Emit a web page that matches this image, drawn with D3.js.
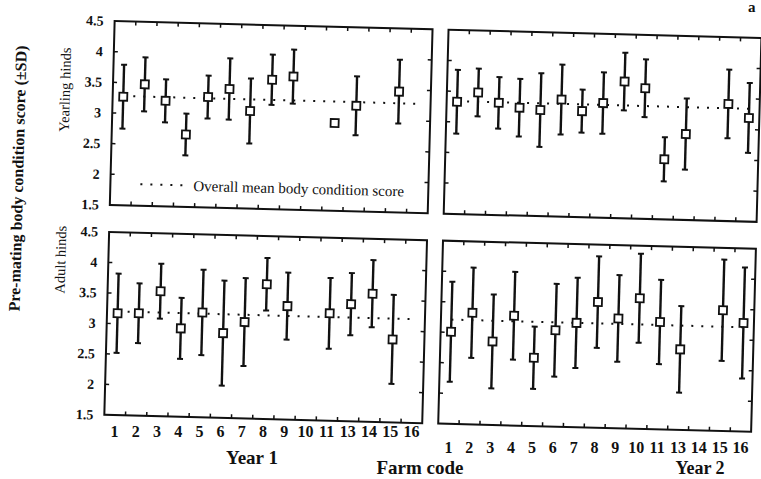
<!DOCTYPE html>
<html>
<head>
<meta charset="utf-8">
<script src="https://cdn.jsdelivr.net/npm/d3@7"></script>
<style>
  body { margin: 0; background: #fff; }
  svg { display: block; }
  text { font-family: 'Liberation Serif', 'Times New Roman', serif; fill: #111; }
</style>
</head>
<body>
<div id="chart"></div>
<script>
// farm codes on the x axis (there is no farm 12)
const farms = ['1', '2', '3', '4', '5', '6', '7', '8', '9', '10', '11', '13', '14', '15', '16'];
const yTicks = [1.5, 2, 2.5, 3, 3.5, 4, 4.5];

// yearling hinds, year 1 (null = no data, sd null = no error bar)
const yearlingY1Mean = [3.27, 3.48, 3.22, 2.68, 3.30, 3.44, 3.09, 3.61, 3.67, null, 2.93, 3.22, null, 3.47, null];
const yearlingY1Sd = [0.52, 0.44, 0.35, 0.34, 0.35, 0.50, 0.53, 0.41, 0.44, null, null, 0.48, null, 0.52, null];

// yearling hinds, year 2
const yearlingY2Mean = [3.33, 3.49, 3.33, 3.26, 3.23, 3.41, 3.23, 3.37, 3.73, 3.63, 2.48, 2.90, null, 3.41, 3.19];
const yearlingY2Sd = [0.52, 0.39, 0.42, 0.47, 0.60, 0.57, 0.35, 0.50, 0.47, 0.47, 0.36, 0.58, null, 0.56, 0.57];

// adult hinds, year 1
const adultY1Mean = [3.17, 3.18, 3.55, 2.95, 3.22, 2.89, 3.08, 3.71, 3.36, null, 3.26, 3.42, 3.60, 2.86, null];
const adultY1Sd = [0.65, 0.49, 0.45, 0.50, 0.70, 0.86, 0.72, 0.43, 0.55, null, 0.58, 0.51, 0.55, 0.73, null];

// adult hinds, year 2
const adultY2Mean = [3.01, 3.33, 2.87, 3.30, 2.62, 3.08, 3.21, 3.56, 3.30, 3.64, 3.26, 2.82, null, 3.48, 3.28];
const adultY2Sd = [0.82, 0.74, 0.77, 0.72, 0.51, 0.76, 0.74, 0.75, 0.71, 0.73, 0.69, 0.71, null, 0.83, 0.91];

// overall mean body condition score per panel
const overallMean = { yearlingY1: 3.28, yearlingY2: 3.34, adultY1: 3.20, adultY2: 3.21 };

const width = 761, height = 479;
const svg = d3.select('#chart').append('svg')
  .attr('width', width)
  .attr('height', height);

// the scanned figure is slightly tilted
const fig = svg.append('g').attr('transform', 'rotate(1.5, 380, 240)');
const flat = svg.append('g');

const panels = [
  { mean: yearlingY1Mean, sd: yearlingY1Sd, overall: overallMean.yearlingY1, x0: 109, x1: 427, y0: 28, y1: 212, left: true, legend: true },
  { mean: yearlingY2Mean, sd: yearlingY2Sd, overall: overallMean.yearlingY2, x0: 443, x1: 756, y0: 28, y1: 212 },
  { mean: adultY1Mean, sd: adultY1Sd, overall: overallMean.adultY1, x0: 109, x1: 427, y0: 239, y1: 422, left: true, labelY: 437, year: 'Year 1', yearX: 252, yearY: 464, yearSize: 19 },
  { mean: adultY2Mean, sd: adultY2Sd, overall: overallMean.adultY2, x0: 443, x1: 756, y0: 239, y1: 422, labelY: 453, year: 'Year 2', yearX: 700, yearY: 474, yearSize: 18 }
];

panels.forEach(p => {
  const x = d3.scaleBand().domain(farms).range([p.x0, p.x1]);
  const y = d3.scaleLinear().domain([1.5, 4.5]).range([p.y1, p.y0]);
  const cx = d => x(d) + x.bandwidth() / 2;
  const g = fig.append('g');

  // frame
  g.append('rect')
    .attr('x', p.x0).attr('y', p.y0)
    .attr('width', p.x1 - p.x0).attr('height', p.y1 - p.y0)
    .attr('fill', 'none').attr('stroke', '#111').attr('stroke-width', 2);

  // inward ticks
  const inner = farms.slice(1);
  g.selectAll('line.tb').data(inner.flatMap(d => [[d, p.y0, 4], [d, p.y1, -4]]))
    .enter().append('line')
    .attr('x1', d => x(d[0])).attr('x2', d => x(d[0]))
    .attr('y1', d => d[1]).attr('y2', d => d[1] + d[2])
    .attr('stroke', '#111').attr('stroke-width', 1.5);
  const yInner = yTicks.slice(1, -1);
  g.selectAll('line.lr').data(yInner.flatMap(v => [[v, p.x0, 4], [v, p.x1, -4]]))
    .enter().append('line')
    .attr('y1', d => y(d[0])).attr('y2', d => y(d[0]))
    .attr('x1', d => d[1]).attr('x2', d => d[1] + d[2])
    .attr('stroke', '#111').attr('stroke-width', 1.5);

  // overall mean (dotted)
  g.append('line')
    .attr('x1', cx(farms[0])).attr('x2', cx(farms[farms.length - 1]))
    .attr('y1', y(p.overall)).attr('y2', y(p.overall))
    .attr('stroke', '#111').attr('stroke-width', 2)
    .attr('stroke-dasharray', '2,8');

  const pts = farms.map((f, i) => ({ f, m: p.mean[i], s: p.sd[i] })).filter(d => d.m !== null);
  const bars = pts.filter(d => d.s !== null);

  g.selectAll('line.err').data(bars).enter().append('line')
    .attr('x1', d => cx(d.f)).attr('x2', d => cx(d.f))
    .attr('y1', d => y(d.m + d.s)).attr('y2', d => y(d.m - d.s))
    .attr('stroke', '#111').attr('stroke-width', 2.4);
  g.selectAll('line.cap').data(bars.flatMap(d => [[d.f, d.m + d.s], [d.f, d.m - d.s]])).enter().append('line')
    .attr('x1', d => cx(d[0]) - 3).attr('x2', d => cx(d[0]) + 3)
    .attr('y1', d => y(d[1])).attr('y2', d => y(d[1]))
    .attr('stroke', '#111').attr('stroke-width', 2);

  g.selectAll('rect.pt').data(pts).enter().append('rect')
    .attr('x', d => cx(d.f) - 4).attr('y', d => y(d.m) - 4)
    .attr('width', 8).attr('height', 8)
    .attr('fill', '#fff').attr('stroke', '#111').attr('stroke-width', 1.8);

  if (p.left) {
    g.selectAll('text.yt').data(yTicks).enter().append('text')
      .attr('x', p.x0 - 11).attr('y', d => y(d))
      .attr('dy', '0.35em')
      .attr('text-anchor', 'end')
      .style('font-size', '14px').style('font-weight', 'bold')
      .text(d => d3.format('')(d));
  }

  if (p.legend) {
    const ly = y(1.85);
    g.append('line')
      .attr('x1', p.x0 + 30).attr('x2', p.x0 + 72)
      .attr('y1', ly).attr('y2', ly)
      .attr('stroke', '#111').attr('stroke-width', 2)
      .attr('stroke-dasharray', '2,8');
    g.append('text')
      .attr('x', p.x0 + 83).attr('y', ly).attr('dy', '0.35em')
      .style('font-size', '15px')
      .text('Overall mean body condition score');
  }

  if (p.labelY) {
    // tick labels sit level in the scan, shifted for the tilt
    flat.selectAll(null).data(farms).enter().append('text')
      .attr('x', d => cx(d) - 5).attr('y', p.labelY)
      .attr('text-anchor', 'middle')
      .style('font-size', '16px').style('font-weight', 'bold')
      .text(d => d);
    flat.append('text')
      .attr('x', p.yearX).attr('y', p.yearY)
      .attr('text-anchor', 'middle')
      .style('font-size', p.yearSize + 'px').style('font-weight', 'bold')
      .text(p.year);
  }
});

// row labels and axis title
fig.append('text')
  .attr('transform', 'translate(61, 98) rotate(-90)')
  .attr('text-anchor', 'middle').attr('dy', '0.35em')
  .style('font-size', '14.5px')
  .text('Yearling hinds');
fig.append('text')
  .attr('transform', 'translate(61, 268) rotate(-90)')
  .attr('text-anchor', 'middle').attr('dy', '0.35em')
  .style('font-size', '14.5px')
  .text('Adult hinds');
fig.append('text')
  .attr('transform', 'translate(16, 188) rotate(-90)')
  .attr('text-anchor', 'middle').attr('dy', '0.35em')
  .style('font-size', '16px').style('font-weight', 'bold')
  .text('Pre-mating body condition score (±SD)');

flat.append('text')
  .attr('x', 420).attr('y', 474)
  .attr('text-anchor', 'middle')
  .style('font-size', '19px').style('font-weight', 'bold')
  .text('Farm code');

// panel letter at the top-right corner
flat.append('text')
  .attr('x', 748).attr('y', 12)
  .style('font-size', '15px').style('font-weight', 'bold')
  .text('a');
</script>
</body>
</html>
